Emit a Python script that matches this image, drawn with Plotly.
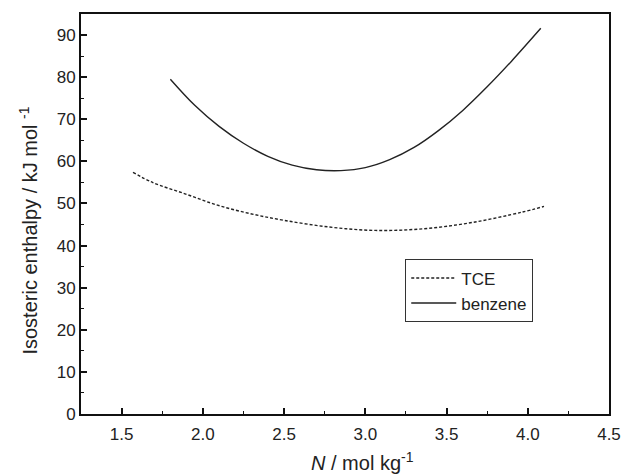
import plotly.graph_objects as go

benzene_x = [1.80, 1.95, 2.10, 2.25, 2.40, 2.55, 2.70, 2.85, 3.00, 3.15, 3.30, 3.45, 3.60, 3.75, 3.90, 4.08]
benzene_y = [79.5, 73.3, 68.3, 64.3, 61.2, 59.1, 58.0, 57.8, 58.5, 60.4, 63.3, 67.3, 72.1, 77.7, 83.8, 91.6]

tce_x = [1.57, 1.69, 1.89, 2.09, 2.29, 2.50, 2.78, 3.06, 3.36, 3.66, 3.96, 4.10]
tce_y = [57.4, 55.0, 52.3, 49.6, 47.6, 46.0, 44.4, 43.6, 44.0, 45.5, 47.9, 49.3]

x_ticks = [1.5, 2.0, 2.5, 3.0, 3.5, 4.0, 4.5]
y_ticks = [0, 10, 20, 30, 40, 50, 60, 70, 80, 90]

font = "Liberation Sans, Arial, sans-serif"

fig = go.Figure()
fig.add_trace(go.Scatter(x=tce_x, y=tce_y, mode="lines", name="TCE",
                         line=dict(color="#222", width=1.4, dash="3px,2px", shape="spline")))
fig.add_trace(go.Scatter(x=benzene_x, y=benzene_y, mode="lines", name="benzene",
                         line=dict(color="#222", width=1.4, shape="spline")))

axis_common = dict(showline=True, linecolor="#111", linewidth=1.8, mirror=True,
                   ticks="inside", ticklen=6, tickwidth=1.5, tickcolor="#111",
                   showgrid=False, zeroline=False,
                   tickfont=dict(family=font, size=17, color="#222"))

fig.update_xaxes(range=[1.25, 4.5], tickvals=x_ticks,
                 ticktext=[f"{v:.1f}" for v in x_ticks], ticklabelstandoff=4,
                 minor=dict(dtick=0.25, ticks="inside", ticklen=3, tickwidth=1.3, tickcolor="#111"),
                 **axis_common)
fig.update_yaxes(range=[0, 95], tickvals=y_ticks,
                 minor=dict(dtick=5, ticks="inside", ticklen=3, tickwidth=1.3, tickcolor="#111"),
                 **axis_common)

fig.update_layout(
    width=633, height=476,
    margin=dict(l=81, r=13, t=13, b=62),
    paper_bgcolor="white", plot_bgcolor="white",
    showlegend=True,
    legend=dict(x=(412 - 81) / 539, y=(414 - 259) / 401, xanchor="left", yanchor="top",
                bordercolor="#333", borderwidth=1, bgcolor="white",
                font=dict(family=font, size=17, color="#222"),
                tracegroupgap=0, itemwidth=45),
    annotations=[
        dict(text="<i>N</i> / mol kg<sup>-1</sup>", xref="paper", yref="paper",
             x=(368 - 81) / 539, y=-(462 - 414) / 401, xanchor="center", yanchor="middle",
             showarrow=False, font=dict(family=font, size=20, color="#222")),
        dict(text="Isosteric enthalpy / kJ mol <sup>-1</sup>", xref="paper", yref="paper",
             x=-(81 - 27) / 539, y=(414 - 230) / 401, xanchor="center", yanchor="middle",
             textangle=-90, showarrow=False, font=dict(family=font, size=20, color="#222")),
    ],
)

fig.write_html("out.html")
